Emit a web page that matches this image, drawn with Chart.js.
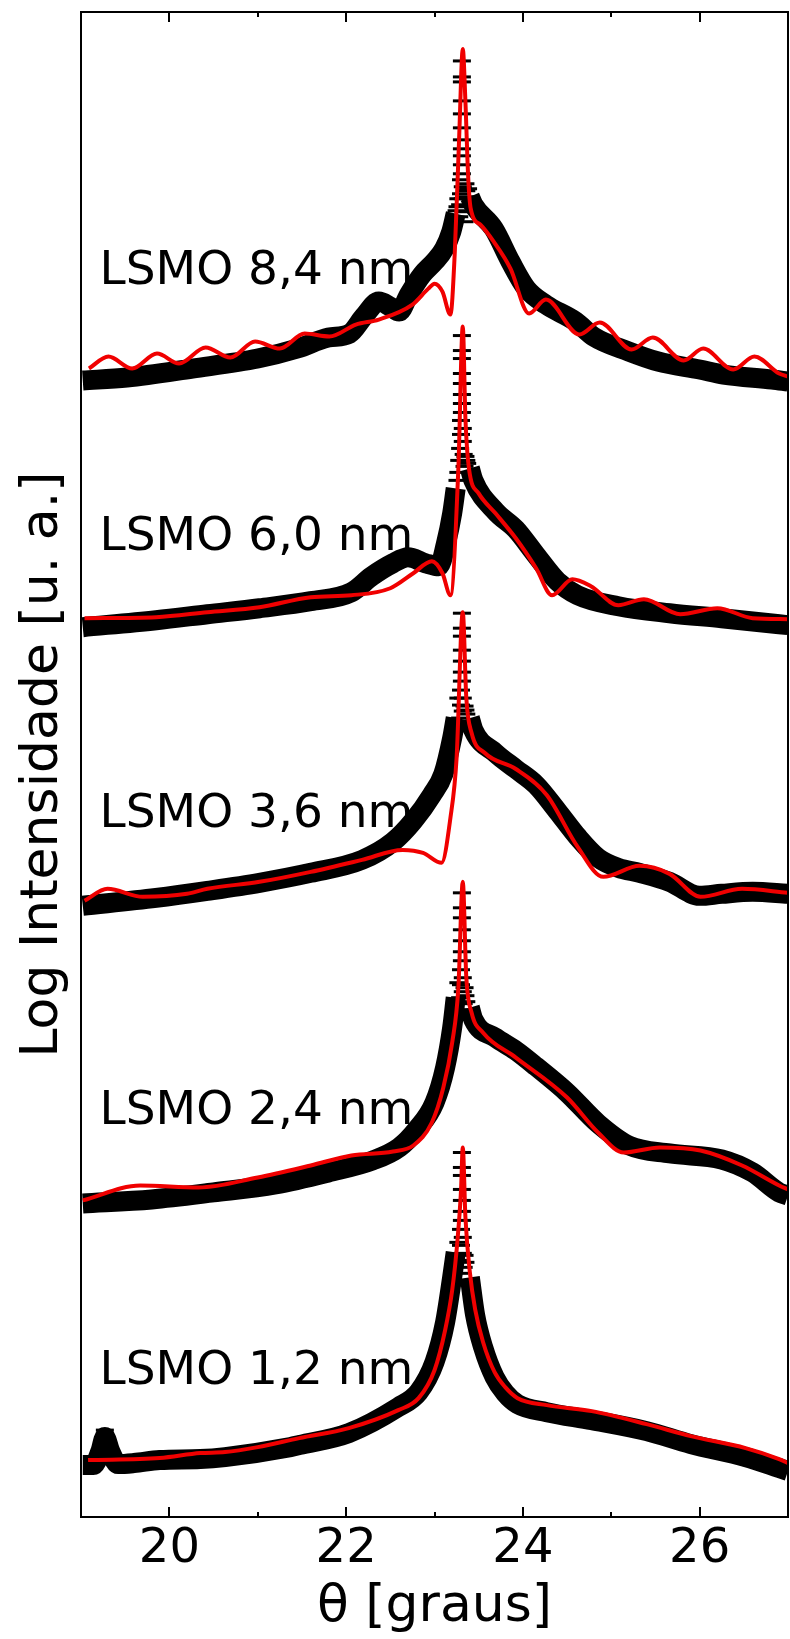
<!DOCTYPE html>
<html>
<head>
<meta charset="utf-8">
<script src="https://cdn.jsdelivr.net/npm/chart.js@4.4.1/dist/chart.umd.min.js"></script>
<style>
    html, body { margin: 0; padding: 0; background: #fff; overflow: hidden; }
    #wrap { width: 800px; height: 1639px; }
</style>
</head>
<body>
<div id="wrap"><canvas id="xrdChart"></canvas></div>
<script>
// X axis ticks (theta, degrees)
const xMajorTicks = [20, 22, 24, 26];
const xMinorTicks = [19, 21, 23, 25, 27];

// Sample labels, with anchor point (theta, log intensity) of each label's left baseline
const sampleNames = ['LSMO 8,4 nm', 'LSMO 6,0 nm', 'LSMO 3,6 nm', 'LSMO 2,4 nm', 'LSMO 1,2 nm'];
const labelTheta = [19.21, 19.21, 19.21, 19.21, 19.21];
const labelLogI = [12.35, 9.68, 6.91, 3.94, 1.33];

// LSMO 8,4 nm
const fit84X = [19.09, 19.31, 19.58, 19.86, 20.11, 20.41, 20.69, 20.97, 21.25, 21.53, 21.81, 22.11, 22.37, 22.75, 22.93, 23.0, 23.09, 23.18, 23.23, 23.28, 23.32, 23.35, 23.38, 23.41, 23.52, 23.67, 23.86, 24.07, 24.26, 24.64, 24.87, 25.23, 25.47, 25.82, 26.04, 26.38, 26.62, 26.9, 27.0];
const fit84Y = [11.50, 11.62, 11.50, 11.65, 11.55, 11.71, 11.61, 11.77, 11.70, 11.85, 11.82, 11.94, 11.99, 12.14, 12.30, 12.35, 12.27, 12.04, 12.67, 13.84, 14.70, 14.17, 13.44, 13.10, 12.94, 12.77, 12.50, 12.05, 12.19, 11.84, 11.96, 11.69, 11.81, 11.58, 11.70, 11.49, 11.62, 11.45, 11.42];
const data84X = [19.02, 19.52, 20.26, 21.0, 21.45, 21.8, 22.04, 22.2, 22.37, 22.5, 22.6, 22.71, 22.86, 23.0, 23.11, 23.19, 23.24, 23.32, 23.4, 23.44, 23.67, 23.86, 24.04, 24.26, 24.6, 24.8, 25.2, 25.53, 26.0, 26.27, 26.82, 27.0];
const data84Y = [11.38, 11.41, 11.50, 11.60, 11.70, 11.81, 11.85, 12.02, 12.17, 12.12, 12.07, 12.24, 12.44, 12.57, 12.70, 12.87, 13.05, null, 13.22, 13.14, 12.90, 12.57, 12.30, 12.14, 11.97, 11.82, 11.67, 11.57, 11.49, 11.44, 11.39, 11.37];
const peak84X = [23.31, 23.31, 23.31, 23.31, 23.31, 23.31, 23.31, 23.31, 23.31, 23.31, 23.31, 23.30, 23.32, 23.30, 23.32, 23.29, 23.33, 23.28, 23.34, 23.27, 23.35, 23.26, 23.36, 23.25, 23.37, 23.38];
const peak84Y = [14.58, 14.42, 14.37, 14.18, 14.05, 13.91, 13.79, 13.70, 13.63, 13.54, 13.45, 13.39, 13.32, 13.25, 13.20, 13.14, 13.07, 13.02, 12.97, 13.20, 13.35, 13.12, 13.28, 13.08, 13.22, 13.30];

// LSMO 6,0 nm
const fit60X = [19.04, 19.85, 20.43, 21.02, 21.6, 22.06, 22.5, 22.76, 22.97, 23.09, 23.18, 23.27, 23.32, 23.35, 23.39, 23.5, 23.69, 23.92, 24.15, 24.33, 24.56, 24.77, 25.08, 25.37, 25.78, 26.2, 26.6, 27.0];
const fit60Y = [9.00, 9.01, 9.06, 9.11, 9.21, 9.23, 9.30, 9.45, 9.57, 9.45, 9.23, 10.5, 11.92, 11.0, 10.5, 10.25, 10.05, 9.8, 9.5, 9.23, 9.39, 9.32, 9.13, 9.19, 9.04, 9.10, 9.0, 8.99];
const data60X = [19.02, 19.85, 20.43, 21.02, 21.6, 22.06, 22.29, 22.53, 22.7, 22.9, 23.05, 23.13, 23.2, 23.24, 23.32, 23.4, 23.44, 23.69, 23.92, 24.15, 24.39, 24.62, 25.08, 25.66, 26.25, 26.9, 27.0];
const data60Y = [8.91, 8.98, 9.04, 9.10, 9.17, 9.26, 9.42, 9.55, 9.61, 9.55, 9.52, 9.75, 10.05, 10.30, null, 10.50, 10.38, 10.07, 9.89, 9.63, 9.37, 9.23, 9.12, 9.05, 9.0, 8.94, 8.93];
const peak60X = [23.31, 23.31, 23.31, 23.31, 23.31, 23.31, 23.31, 23.31, 23.30, 23.32, 23.30, 23.32, 23.29, 23.33, 23.28, 23.34, 23.27, 23.35, 23.26, 23.36, 23.37];
const peak60Y = [11.83, 11.68, 11.60, 11.45, 11.35, 11.24, 11.15, 11.06, 10.98, 10.90, 10.84, 10.77, 10.70, 10.64, 10.58, 10.52, 10.46, 10.62, 10.38, 10.58, 10.55];

// LSMO 3,6 nm
const fit36X = [19.04, 19.3, 19.7, 20.2, 20.43, 21.02, 21.6, 22.18, 22.64, 22.87, 23.08, 23.18, 23.25, 23.32, 23.36, 23.42, 23.57, 23.92, 24.27, 24.62, 24.91, 25.32, 25.66, 26.01, 26.48, 27.0];
const fit36Y = [6.17, 6.29, 6.21, 6.24, 6.29, 6.36, 6.46, 6.58, 6.68, 6.65, 6.55, 7.0, 7.6, 9.06, 8.2, 7.85, 7.65, 7.49, 7.23, 6.71, 6.41, 6.52, 6.44, 6.21, 6.29, 6.25];
const data36X = [19.02, 19.85, 20.43, 21.02, 21.6, 22.18, 22.53, 22.76, 22.97, 23.1, 23.2, 23.24, 23.32, 23.4, 23.44, 23.69, 23.92, 24.15, 24.39, 24.62, 24.85, 25.08, 25.32, 25.66, 26.0, 26.25, 26.6, 27.0];
const data36Y = [6.12, 6.20, 6.27, 6.35, 6.45, 6.58, 6.76, 6.97, 7.23, 7.44, 7.80, 8.00, null, 8.00, 7.88, 7.65, 7.49, 7.33, 7.07, 6.81, 6.60, 6.50, 6.45, 6.36, 6.22, 6.24, 6.26, 6.24];
const peak36X = [23.31, 23.31, 23.31, 23.31, 23.31, 23.31, 23.31, 23.30, 23.32, 23.30, 23.32, 23.29, 23.33, 23.28, 23.34, 23.27, 23.35, 23.36];
const peak36Y = [9.05, 8.90, 8.82, 8.68, 8.57, 8.46, 8.37, 8.28, 8.20, 8.13, 8.07, 8.00, 7.95, 7.90, 8.12, 8.20, 8.08, 8.04];

// LSMO 2,4 nm
const fit24X = [19.02, 19.67, 20.33, 21.0, 21.6, 22.06, 22.53, 22.76, 22.97, 23.1, 23.2, 23.27, 23.32, 23.36, 23.42, 23.55, 23.92, 24.5, 24.85, 25.14, 25.55, 26.01, 26.48, 26.9, 27.0];
const fit24Y = [3.17, 3.32, 3.30, 3.40, 3.52, 3.62, 3.66, 3.72, 3.95, 4.30, 4.75, 5.30, 6.36, 5.40, 5.05, 4.85, 4.60, 4.20, 3.85, 3.65, 3.70, 3.67, 3.52, 3.32, 3.28];
const data24X = [19.02, 19.8, 20.5, 21.2, 21.8, 22.3, 22.6, 22.8, 23.0, 23.12, 23.2, 23.24, 23.32, 23.4, 23.44, 23.69, 23.92, 24.15, 24.5, 24.85, 25.2, 25.66, 26.25, 26.6, 26.9, 27.0];
const data24Y = [3.14, 3.18, 3.25, 3.33, 3.45, 3.57, 3.70, 3.88, 4.15, 4.50, 4.90, 5.20, null, 5.10, 4.98, 4.80, 4.67, 4.51, 4.25, 3.94, 3.72, 3.64, 3.58, 3.45, 3.25, 3.22];
const peak24X = [23.31, 23.31, 23.31, 23.31, 23.31, 23.31, 23.31, 23.30, 23.32, 23.30, 23.32, 23.29, 23.33, 23.28, 23.34, 23.27, 23.35, 23.36];
const peak24Y = [6.25, 6.10, 6.00, 5.88, 5.77, 5.66, 5.57, 5.48, 5.40, 5.33, 5.26, 5.20, 5.14, 5.08, 5.30, 5.35, 5.22, 5.16];

// LSMO 1,2 nm
const fit12X = [19.08, 19.89, 20.35, 20.63, 21.0, 21.47, 22.03, 22.59, 22.82, 23.0, 23.12, 23.2, 23.26, 23.3, 23.32, 23.35, 23.4, 23.46, 23.55, 23.68, 23.8, 23.94, 24.27, 24.78, 25.4, 25.9, 26.52, 26.9, 27.0];
const fit12Y = [0.57, 0.59, 0.64, 0.65, 0.70, 0.79, 0.89, 1.07, 1.19, 1.47, 1.87, 2.27, 2.77, 3.27, 3.70, 3.00, 2.45, 2.08, 1.75, 1.45, 1.30, 1.19, 1.12, 1.06, 0.93, 0.81, 0.69, 0.58, 0.54];
const data12X = [19.02, 19.14, 19.22, 19.27, 19.33, 19.42, 19.6, 19.89, 20.35, 20.63, 21.37, 21.47, 22.03, 22.59, 22.82, 23.0, 23.12, 23.2, 23.24, 23.32, 23.4, 23.46, 23.55, 23.68, 23.8, 23.94, 24.27, 24.78, 25.4, 25.9, 26.52, 26.9, 27.0];
const data12Y = [0.52, 0.52, 0.66, 0.80, 0.66, 0.53, 0.54, 0.57, 0.58, 0.60, 0.70, 0.72, 0.84, 1.10, 1.25, 1.55, 1.95, 2.40, 2.65, null, 2.40, 2.02, 1.70, 1.40, 1.24, 1.13, 1.05, 0.97, 0.86, 0.73, 0.60, 0.49, 0.46];
const peak12X = [23.31, 23.31, 23.31, 23.31, 23.31, 23.31, 23.31, 23.30, 23.32, 23.30, 23.32, 23.29, 23.33, 23.28, 23.34, 23.27, 23.35, 19.27, 19.27, 19.27];
const peak12Y = [3.65, 3.50, 3.42, 3.28, 3.17, 3.06, 2.97, 2.88, 2.80, 2.72, 2.64, 2.57, 2.50, 2.44, 2.62, 2.75, 2.55, 0.87, 0.80, 0.74];

const FONT = "'DejaVu Sans'";
Chart.defaults.font.family = FONT;
Chart.defaults.color = '#000';

function toPoints(xs, ys) {
    return xs.map((x, i) => ({ x: x, y: ys[i] }));
}

function fitDataset(xs, ys) {
    return {
        type: 'line',
        data: toPoints(xs, ys),
        borderColor: '#f00000',
        borderWidth: 4,
        pointRadius: 0,
        cubicInterpolationMode: 'monotone',
        clip: 0,
        order: 0
    };
}

function measuredDataset(xs, ys) {
    return {
        type: 'line',
        data: toPoints(xs, ys),
        borderColor: '#000',
        borderWidth: 20,
        borderJoinStyle: 'round',
        pointRadius: 0,
        cubicInterpolationMode: 'monotone',
        spanGaps: false,
        clip: 0,
        order: 2
    };
}

function peakDataset(xs, ys) {
    return {
        type: 'scatter',
        data: toPoints(xs, ys),
        pointStyle: 'line',
        pointRadius: 9,
        pointBorderWidth: 3,
        borderColor: '#000',
        backgroundColor: '#000',
        showLine: false,
        clip: 0,
        order: 1
    };
}

// Frame, inward ticks and sample labels
const framePlugin = {
    id: 'framePlugin',
    afterDatasetsDraw(chart) {
        const { ctx, chartArea: a, scales } = chart;
        const x = scales.x, y = scales.y;
        ctx.save();
        ctx.strokeStyle = '#000';
        ctx.lineWidth = 2;
        ctx.strokeRect(a.left, a.top, a.right - a.left, a.bottom - a.top);

        const ticks = xMajorTicks.map(v => [v, 10]).concat(xMinorTicks.map(v => [v, 5]));
        ticks.forEach(([v, len]) => {
            const px = Math.round(x.getPixelForValue(v));
            ctx.beginPath();
            ctx.moveTo(px, a.bottom);
            ctx.lineTo(px, a.bottom - len);
            ctx.moveTo(px, a.top);
            ctx.lineTo(px, a.top + len);
            ctx.stroke();
        });

        ctx.fillStyle = '#000';
        ctx.font = '47px ' + FONT;
        ctx.textAlign = 'left';
        ctx.textBaseline = 'alphabetic';
        sampleNames.forEach((name, i) => {
            ctx.fillText(name, x.getPixelForValue(labelTheta[i]), y.getPixelForValue(labelLogI[i]));
        });
        ctx.restore();
    }
};

const ctx = document.getElementById('xrdChart').getContext('2d');
new Chart(ctx, {
    data: {
        datasets: [
            fitDataset(fit84X, fit84Y), peakDataset(peak84X, peak84Y), measuredDataset(data84X, data84Y),
            fitDataset(fit60X, fit60Y), peakDataset(peak60X, peak60Y), measuredDataset(data60X, data60Y),
            fitDataset(fit36X, fit36Y), peakDataset(peak36X, peak36Y), measuredDataset(data36X, data36Y),
            fitDataset(fit24X, fit24Y), peakDataset(peak24X, peak24Y), measuredDataset(data24X, data24Y),
            fitDataset(fit12X, fit12Y), peakDataset(peak12X, peak12Y), measuredDataset(data12X, data12Y)
        ]
    },
    options: {
        responsive: true,
        maintainAspectRatio: false,
        animation: false,
        devicePixelRatio: 1,
        layout: { padding: { top: 10, right: 1, bottom: 0, left: 0 } },
        plugins: {
            legend: { display: false },
            tooltip: { enabled: false }
        },
        scales: {
            x: {
                type: 'linear',
                position: 'bottom',
                min: 19,
                max: 27,
                grid: { display: false, drawTicks: false },
                border: { display: false },
                afterBuildTicks: scale => {
                    scale.ticks = xMajorTicks.map(v => ({ value: v }));
                },
                ticks: {
                    autoSkip: false,
                    maxRotation: 0,
                    padding: 4,
                    font: { size: 48 },
                    color: '#000'
                },
                title: {
                    display: true,
                    text: 'θ [graus]',
                    font: { size: 52 },
                    color: '#000',
                    padding: { top: 0, bottom: 0 }
                },
                afterFit: scale => { scale.height = 122; }
            },
            y: {
                type: 'linear',
                min: 0,
                max: 15.07,
                grid: { display: false, drawTicks: false },
                border: { display: false },
                ticks: { display: false },
                title: {
                    display: true,
                    text: 'Log Intensidade [u. a.]',
                    font: { size: 52 },
                    color: '#000',
                    padding: { top: 12, bottom: 0 }
                },
                afterFit: scale => { scale.width = 81; }
            }
        }
    },
    plugins: [framePlugin]
});
</script>
</body>
</html>
